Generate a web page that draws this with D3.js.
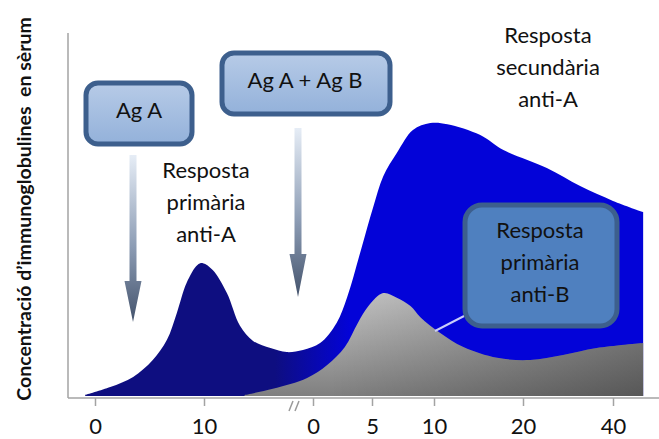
<!DOCTYPE html>
<html>
<head>
<meta charset="utf-8">
<script src="https://cdn.jsdelivr.net/npm/d3@7"></script>
<style>
body { margin: 0; background: #fff; }
text { font-family: Lato, "Open Sans", sans-serif; fill: #111; }
</style>
</head>
<body>
<svg id="chart" width="659" height="439"></svg>
<script>
// first exposure (Ag A): days after injection and relative antibody level
var primaryDays   = [-0.9, 1.4, 3.5, 5.3, 6.6, 7.5, 8.4, 9.4, 9.9, 10.8, 12.1, 13.3, 14.5, 16.1, 17.6];
var primaryLevels = [0.3, 2.5, 5.3, 10, 15.6, 23, 31.4, 36.4, 36.9, 35, 28.6, 19.5, 15.3, 13.3, 12.2];

// second exposure (Ag A + Ag B): secondary anti-A response
var secondaryDays   = [-0.85, 0.6, 2.0, 2.9, 4.1, 5.1, 5.9, 7.0, 8.3, 9.7, 11.5, 15.2, 17.8, 25.3, 32.7, 40, 46.7];
var secondaryLevels = [12.8, 14.7, 20.3, 27.5, 41, 52.5, 61, 67.5, 73.9, 75.8, 75.5, 72.5, 68.3, 63.3, 58.3, 54.2, 51.1];

// primary anti-B response
var antiBDays   = [-5.8, -3.4, -0.5, 1.2, 2.7, 3.8, 4.7, 5.9, 7.0, 8.1, 8.9, 10.7, 13.3, 17.1, 21.6, 28.9, 36.4, 46.7];
var antiBLevels = [0.3, 2.0, 5.0, 8.6, 13.6, 20.3, 25, 28.6, 27.3, 25, 21.9, 17.5, 13.6, 10.6, 10, 11.4, 13.3, 14.7];

var firstTicks  = [0, 10];
var secondTicks = [0, 5, 10, 20, 40];

var yTitle = "Concentració d’immunoglobulines  en sèrum";
var labelAgA = "Ag A";
var labelAgAB = "Ag A + Ag B";
var labelPrimA = ["Resposta", "primària", "anti-A"];
var labelSecA = ["Resposta", "secundària", "anti-A"];
var labelPrimB = ["Resposta", "primària", "anti-B"];

var svg = d3.select("#chart");
var defs = svg.append("defs");

var y = d3.scaleLinear().domain([0, 100]).range([396, 36]);
var xFirst = d3.scaleLinear().domain([0, 10]).range([95, 204]);
var xSecond = d3.scaleLinear().domain(secondTicks).range([313, 372, 434, 523, 613]);

function addGradient(id, attrs, stops){
	var g = defs.append("linearGradient").attr("id", id);
	for (var k in attrs) g.attr(k, attrs[k]);
	stops.forEach(function(s){
		g.append("stop").attr("offset", s[0]).attr("stop-color", s[1])
			.attr("stop-opacity", s[2] == null ? 1 : s[2]);
	});
}
addGradient("blueGrad", {gradientUnits: "userSpaceOnUse", x1: 275, y1: 0, x2: 350, y2: 0},
	[["0", "#0e0e80"], ["1", "#0303d8"]]);
addGradient("grayGrad", {gradientUnits: "userSpaceOnUse", x1: 0, y1: 290, x2: 0, y2: 398},
	[["0", "#c9c9c9"], ["1", "#7e7e7e"]]);
addGradient("grayShade", {gradientUnits: "userSpaceOnUse", x1: 330, y1: 0, x2: 645, y2: 0},
	[["0", "#000", 0], ["1", "#000", 0.32]]);
addGradient("arrowGrad", {x1: 0, y1: 0, x2: 0, y2: 1},
	[["0", "#e6edf6"], ["0.55", "#8c9cb4"], ["1", "#44536c"]]);
addGradient("boxGrad", {x1: 0, y1: 0, x2: 0, y2: 1},
	[["0", "#b7cbe7"], ["1", "#93b1da"]]);

// build the two curves
var bluePts = primaryDays.map(function(d, i){ return [xFirst(d), y(primaryLevels[i])]; })
	.concat(secondaryDays.map(function(d, i){ return [xSecond(d), y(secondaryLevels[i])]; }));
var grayPts = antiBDays.map(function(d, i){ return [xSecond(d), y(antiBLevels[i])]; });

var area = d3.area()
	.x(function(d){ return d[0]; })
	.y0(y(0))
	.y1(function(d){ return d[1]; })
	.curve(d3.curveCatmullRom.alpha(0.5));

svg.append("path").attr("d", area(bluePts)).attr("fill", "url(#blueGrad)");
svg.append("path").attr("d", area(grayPts)).attr("fill", "url(#grayGrad)");
svg.append("path").attr("d", area(grayPts)).attr("fill", "url(#grayShade)");

// axes
svg.append("line").attr("x1", 68).attr("x2", 659).attr("y1", 398).attr("y2", 398)
	.attr("stroke", "#a3a3a3").attr("stroke-width", 1.5);
svg.append("line").attr("x1", 68).attr("x2", 68).attr("y1", 33).attr("y2", 398)
	.attr("stroke", "#a3a3a3").attr("stroke-width", 1.5);

function styleAxis(g){
	g.select(".domain").remove();
	g.selectAll(".tick line").attr("stroke", "#a3a3a3").attr("stroke-width", 1.5);
	g.selectAll(".tick text").attr("font-size", 22).attr("fill", "#111")
		.attr("font-family", "Lato, 'Open Sans', sans-serif");
}
svg.append("g").attr("transform", "translate(0,398)")
	.call(d3.axisBottom(xFirst).tickValues(firstTicks).tickSize(8).tickPadding(12))
	.call(styleAxis);
svg.append("g").attr("transform", "translate(0,398)")
	.call(d3.axisBottom(xSecond).tickValues(secondTicks).tickSize(8).tickPadding(12))
	.call(styleAxis);

// axis break mark
[289, 295].forEach(function(bx){
	svg.append("line").attr("x1", bx).attr("y1", 411).attr("x2", bx + 4).attr("y2", 401)
		.attr("stroke", "#9a9a9a").attr("stroke-width", 1.5);
});

// y title
svg.append("text")
	.attr("transform", "translate(31,209) rotate(-90)")
	.attr("text-anchor", "middle")
	.attr("font-size", 19.5).attr("font-weight", "bold")
	.style("white-space", "pre")
	.text(yTitle);

// arrows
function arrow(cx, top, headTop, tip){
	var sw = 3.5, hw = 8.5;
	var p = "M" + (cx - sw) + "," + top + "L" + (cx + sw) + "," + top +
		"L" + (cx + sw) + "," + headTop + "L" + (cx + hw) + "," + headTop +
		"L" + cx + "," + tip + "L" + (cx - hw) + "," + headTop +
		"L" + (cx - sw) + "," + headTop + "Z";
	svg.append("path").attr("d", p).attr("fill", "url(#arrowGrad)");
}
arrow(133, 155, 281, 322);
arrow(298, 128, 254, 297);

// boxes
function box(x0, y0, w, h, r, fill, lines, cx, baseline){
	svg.append("rect").attr("x", x0).attr("y", y0).attr("width", w).attr("height", h)
		.attr("rx", r).attr("ry", r)
		.attr("fill", fill).attr("stroke", "#3d5f8d").attr("stroke-width", 5);
	lines.forEach(function(t, i){
		svg.append("text").attr("x", cx).attr("y", baseline + i * 32)
			.attr("text-anchor", "middle").attr("font-size", 22).text(t);
	});
}
box(86, 83, 106, 61, 12, "url(#boxGrad)", [labelAgA], 139, 118);
box(222, 53, 168, 61, 12, "url(#boxGrad)", [labelAgAB], 305, 88);

// connector to anti-B curve
svg.append("line").attr("x1", 435).attr("y1", 331).attr("x2", 466).attr("y2", 315)
	.attr("stroke", "#c9cdfa").attr("stroke-width", 2);
box(465, 205, 152, 121, 17, "#4f80bf", labelPrimB, 540, 238);

// free labels
function label(lines, cx, baseline){
	lines.forEach(function(t, i){
		svg.append("text").attr("x", cx).attr("y", baseline + i * 32)
			.attr("text-anchor", "middle").attr("font-size", 22).text(t);
	});
}
label(labelPrimA, 206, 178);
label(labelSecA, 548, 43);
</script>
</body>
</html>
